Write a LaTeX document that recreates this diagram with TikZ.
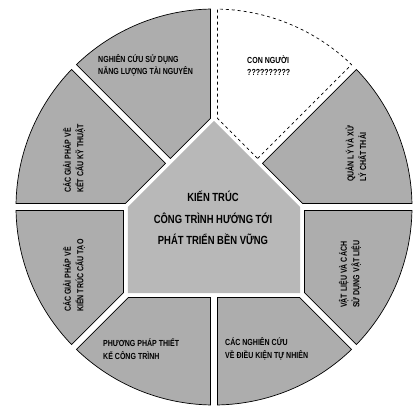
\documentclass[tikz,border=0pt]{standalone}
\usepackage{fontspec}
\setmainfont{Liberation Sans}[FakeStretch=0.8, BoldFont={Liberation Sans Bold}, BoldFeatures={FakeStretch=0.8}]
\begin{document}
\begin{tikzpicture}[x=1pt,y=1pt,
  sec/.style={fill=black!32, draw=black, line width=0.7pt},
  secwhite/.style={fill=white, draw=black, line width=0.7pt, dashed},
  core/.style={fill=black!28, draw=none},
  lbl/.style={font=\fontsize{8.8}{12.5}\selectfont\bfseries, align=left, inner sep=0pt},
  lblv/.style={lbl, rotate=90, anchor=west},
  title/.style={font=\fontsize{11.8}{21.5}\selectfont\bfseries, align=center, inner sep=0pt},
]
\useasboundingbox (-214,-202) rectangle (206,207);
% sectors
\path[sec] (88.7,3.5) -- (1.01:198pt) arc[start angle=1.01,end angle=43.99,radius=198pt] -- (48.58,43.63) -- cycle;
\path[secwhite] (43.63,48.58) -- (46.01:198pt) arc[start angle=46.01,end angle=88.99,radius=198pt] -- (3.5,88.7) -- cycle;
\path[sec] (-3.5,88.7) -- (91.01:198pt) arc[start angle=91.01,end angle=133.99,radius=198pt] -- (-43.63,48.58) -- cycle;
\path[sec] (-48.58,43.63) -- (136.01:198pt) arc[start angle=136.01,end angle=178.99,radius=198pt] -- (-88.7,3.5) -- cycle;
\path[sec] (-90.5,-3.5) -- (181.01:198pt) arc[start angle=181.01,end angle=223.99,radius=198pt] -- (-90.5,-85.55) -- cycle;
\path[sec] (-85.55,-90.5) -- (226.01:198pt) arc[start angle=226.01,end angle=268.99,radius=198pt] -- (-3.5,-90.5) -- cycle;
\path[sec] (3.5,-90.5) -- (271.01:198pt) arc[start angle=271.01,end angle=313.99,radius=198pt] -- (85.55,-90.5) -- cycle;
\path[sec] (90.5,-85.55) -- (316.01:198pt) arc[start angle=316.01,end angle=358.99,radius=198pt] -- (90.5,-3.5) -- cycle;
% core
\path[core] (-86,0) -- (0,86) -- (86,0) -- (86,-86) -- (-86,-86) -- cycle;
% labels
\node[title] (center) at (-1,-11) {KIẾN TRÚC\\CÔNG TRÌNH HƯỚNG TỚI\\PHÁT TRIỂN BỀN VỮNG};
\node[lbl, anchor=west] (nangluong) at (-116,141.5) {NGHIÊN CỨU SỬ DỤNG\\NĂNG LƯỢNG TÀI NGUYÊN};
\node[lbl, anchor=west] (connguoi) at (33,141.5) {CON NGƯỜI\\??????????};
\node[lblv] (chatthai) at (142,25) {QUẢN LÝ VÀ XỬ\\LÝ CHẤT THẢI};
\node[lblv] (vatlieu) at (136,-101) {VẬT LIỆU VÀ CÁCH\\SỬ DỤNG VẬT LIỆU};
\node[lbl, anchor=west] (tunhien) at (11,-142) {CÁC NGHIÊN CỨU\\VỀ ĐIỀU KIỆN TỰ NHIÊN};
\node[lbl, anchor=west] (thietke) at (-111,-142) {PHƯƠNG PHÁP THIẾT\\KẾ CÔNG TRÌNH};
\node[lblv] (cautao) at (-140,-105) {CÁC GIẢI PHÁP VỀ\\KIẾN TRÚC CẤU TẠO};
\node[lblv] (kythuat) at (-140,14) {CÁC GIẢI PHÁP VỀ\\KẾT CẤU KỸ THUẬT};
\end{tikzpicture}
\end{document}
